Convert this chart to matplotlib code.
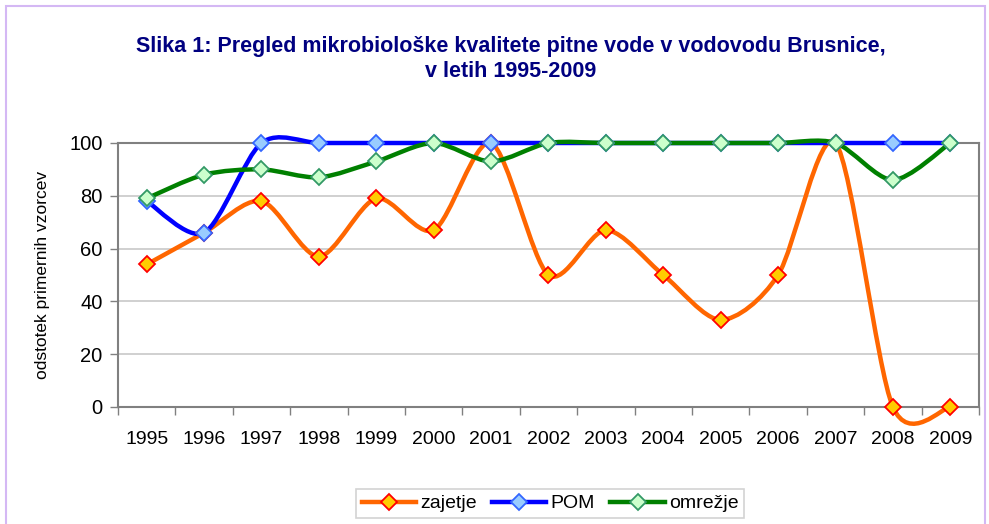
import numpy as np
import matplotlib
matplotlib.use('Agg')
import matplotlib.pyplot as plt
from matplotlib.path import Path
from matplotlib.patches import PathPatch, Rectangle
from matplotlib.lines import Line2D

plt.rcParams['font.family'] = ['Liberation Sans', 'DejaVu Sans']

# podatki
leta = ['1995', '1996', '1997', '1998', '1999', '2000', '2001', '2002',
        '2003', '2004', '2005', '2006', '2007', '2008', '2009']
zajetje = [54, 66, 78, 57, 79, 67, 100, 50, 67, 50, 33, 50, 100, 0, 0]
pom = [78, 66, 100, 100, 100, 100, 100, 100, 100, 100, 100, 100, 100, 100, 100]
omrezje = [79, 88, 90, 87, 93, 100, 93, 100, 100, 100, 100, 100, 100, 86, 100]


def gladka_crta(xs, ys, k=1 / 7):
    # Bezier glajenje kot v Excelu
    pts = np.column_stack([xs, ys]).astype(float)
    n = len(pts)
    verts = [pts[0]]
    codes = [Path.MOVETO]
    for i in range(n - 1):
        p0 = pts[max(i - 1, 0)]
        p1 = pts[i]
        p2 = pts[i + 1]
        p3 = pts[min(i + 2, n - 1)]
        verts += [p1 + (p2 - p0) * k, p2 - (p3 - p1) * k, p2]
        codes += [Path.CURVE4] * 3
    return Path(verts, codes)


fig = plt.figure(figsize=(9.89, 5.24), dpi=100)
ax = fig.add_axes([0.1193, 0.2233, 0.8706, 0.5038])

x = np.arange(len(leta))
serije = [
    ('zajetje', zajetje, '#FF6600', '#FFCC00', '#FF0000'),
    ('POM', pom, '#0000FF', '#99CCFF', '#3366FF'),
    ('omrežje', omrezje, '#008000', '#CCFFCC', '#339966'),
]
rocaji = []
for ime, y, barva, mfc, mec in serije:
    ax.add_patch(PathPatch(gladka_crta(x, y), fill=False, edgecolor=barva, lw=3.2,
                           capstyle='round', joinstyle='round', clip_on=False, zorder=3))
    ax.plot(x, y, linestyle='none', marker='D', ms=8.5, mfc=mfc, mec=mec, mew=1.3,
            clip_on=False, zorder=4)
    rocaji.append(Line2D([], [], color=barva, lw=3.2, marker='D', ms=8.5,
                         mfc=mfc, mec=mec, mew=1.3, label=ime))

ax.set_xlim(-0.5, len(leta) - 0.5)
ax.set_ylim(0, 100)
ax.set_xticks(x)
ax.set_xticklabels(leta, fontsize=14)
ax.set_xticks(np.arange(-0.5, len(leta), 1), minor=True)
ax.tick_params(axis='x', which='major', length=0, pad=17)
ax.tick_params(axis='x', which='minor', length=6, color='#808080', width=1)
ax.set_yticks(range(0, 101, 20))
ax.tick_params(axis='y', labelsize=14.5, length=6, color='#808080', width=1, pad=5)
ax.yaxis.grid(True, color='#C8C8C8', lw=1.2)
ax.set_axisbelow(True)
for s in ax.spines.values():
    s.set_color('#808080')
    s.set_linewidth(1.5)

ax.set_ylabel('odstotek primernih vzorcev', fontsize=12.5, labelpad=14)

fig.text(0.516, 0.888, 'Slika 1: Pregled mikrobiološke kvalitete pitne vode v vodovodu Brusnice,\nv letih 1995-2009',
         ha='center', va='center', fontsize=15.5, fontweight='bold', color='#000080',
         linespacing=1.25)

leg = fig.legend(handles=rocaji, loc='center', bbox_to_anchor=(0.556, 0.039), ncol=3,
                 fontsize=14, frameon=True, fancybox=False, handlelength=2.8,
                 handletextpad=0.2, columnspacing=0.8, borderpad=0.3)
leg.get_frame().set_edgecolor('#C8C8C8')
leg.get_frame().set_linewidth(1.2)

fig.patches.append(Rectangle((6 / 989, -0.1), 979 / 989, 1.1 - 6 / 524, transform=fig.transFigure,
                             fill=False, edgecolor='#D4B8F4', lw=1.5))

fig.savefig('out.png', dpi=100, facecolor='white')
